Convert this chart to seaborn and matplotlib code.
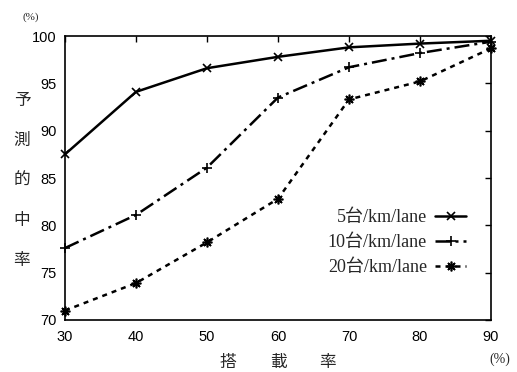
import matplotlib
matplotlib.use("Agg")
import matplotlib.pyplot as plt
import seaborn as sns
import pandas as pd

# data
load_rate = [30, 40, 50, 60, 70, 80, 90]
hit_5 = [87.5, 94.1, 96.6, 97.8, 98.8, 99.2, 99.5]
hit_10 = [77.6, 81.1, 86.1, 93.5, 96.7, 98.2, 99.4]
hit_20 = [71.0, 73.9, 78.2, 82.8, 93.3, 95.2, 98.7]
series_names = ["5台/km/lane", "10台/km/lane", "20台/km/lane"]

sns.set_style("white")
plt.rcParams["font.family"] = ["Liberation Sans", "Noto Sans CJK JP"]

fig = plt.figure(figsize=(5.17, 3.72), dpi=100)
ax = fig.add_axes([0.1257, 0.1398, 0.824, 0.7634])

styles = [
    dict(linestyle="-", marker="x", markersize=6),
    dict(linestyle=(0, (6, 2, 1.2, 2)), marker="+", markersize=7),
    dict(linestyle=(0, (2, 2)), marker=(8, 2, 0), markersize=7),
]
for name, vals, st in zip(series_names, [hit_5, hit_10, hit_20], styles):
    df = pd.DataFrame({"x": load_rate, "y": vals})
    sns.lineplot(data=df, x="x", y="y", ax=ax, color="black", linewidth=1.8,
                 markeredgewidth=1.2, markeredgecolor="black", label=name,
                 clip_on=False, **st)

ax.set_xlim(30, 90)
ax.set_ylim(70, 100)
ax.set_xticks(load_rate)
ax.set_yticks([70, 75, 80, 85, 90, 95, 100])
ax.tick_params(direction="in", length=4, width=1, top=True, right=True,
               labelsize=10.5, colors="black")
ax.tick_params(axis="x", pad=7)
ax.tick_params(axis="y", pad=6)
for s in ax.spines.values():
    s.set_color("black")
    s.set_linewidth(1.2)
ax.set_xlabel("")
ax.set_ylabel("")

cjk = ["Noto Sans CJK JP"]
serif = ["Liberation Serif", "Noto Sans CJK JP"]
ylab_y = [100, 140, 180, 221, 261]
for ch, yy in zip("予測的中率", ylab_y):
    fig.text(22 / 517, 1 - yy / 372, ch, ha="center", va="center",
             fontsize=12, family=cjk)
for ch, xx in zip("搭載率", [228, 278, 327]):
    fig.text(xx / 517, 1 - 362 / 372, ch, ha="center", va="center",
             fontsize=12, family=cjk)
fig.text(31 / 517, 1 - 17 / 372, "(%)", ha="center", va="center", fontsize=8, family=serif)
fig.text(500 / 517, 1 - 359 / 372, "(%)", ha="center", va="center", fontsize=10, family=serif)

leg = ax.legend(loc="upper right", bbox_to_anchor=(0.941, 0.39), frameon=False,
                markerfirst=False, handlelength=1.7, borderpad=0, borderaxespad=0,
                prop={"family": serif, "size": 13}, labelspacing=0.45,
                handletextpad=0.45)

fig.savefig("out.png", dpi=100)
